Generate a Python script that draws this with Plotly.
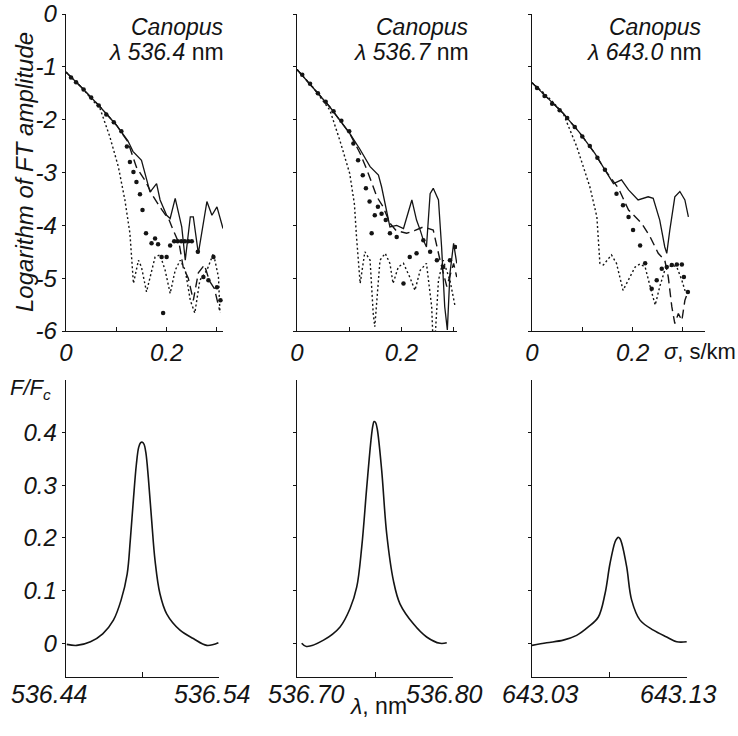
import plotly.graph_objects as go

W, H = 738, 736
FONT = "Liberation Sans, Arial, sans-serif"
INK = "#141414"

# ---------------- top row: log FT amplitude vs sigma (s/km) ----------------
p1_solid_x = [0, 0.03, 0.068, 0.1, 0.123, 0.133, 0.150, 0.160, 0.167, 0.180, 0.187, 0.200, 0.207, 0.217, 0.230, 0.237, 0.247, 0.253, 0.263, 0.280, 0.290, 0.300, 0.312]
p1_solid_y = [-1.1, -1.38, -1.76, -2.1, -2.4, -2.6, -2.77, -3.14, -3.37, -3.21, -3.52, -3.81, -3.87, -3.49, -4.03, -4.66, -3.84, -3.84, -4.53, -3.55, -3.81, -3.65, -4.06]
p1_dash_x = [0, 0.03, 0.068, 0.1, 0.123, 0.14, 0.157, 0.173, 0.19, 0.205, 0.213, 0.225, 0.233, 0.243, 0.253, 0.263, 0.275, 0.285, 0.295, 0.305]
p1_dash_y = [-1.1, -1.38, -1.76, -2.1, -2.42, -2.9, -3.15, -3.45, -3.7, -3.9, -4.09, -4.35, -4.8, -5.0, -5.42, -4.9, -4.75, -5.05, -5.2, -5.6]
p1_dots_x = [0.01, 0.02, 0.035, 0.05, 0.065, 0.08, 0.095, 0.11, 0.121, 0.127, 0.134, 0.140, 0.147, 0.152, 0.159, 0.170, 0.177, 0.183, 0.190, 0.193, 0.200, 0.207, 0.215, 0.222, 0.229, 0.236, 0.243, 0.250, 0.262, 0.273, 0.283, 0.293, 0.300, 0.307]
p1_dots_y = [-1.2, -1.29, -1.43, -1.58, -1.73, -1.9, -2.05, -2.22, -2.51, -2.80, -2.99, -3.18, -3.41, -3.71, -4.15, -4.34, -4.25, -4.36, -4.60, -5.66, -4.60, -4.38, -4.3, -4.3, -4.3, -4.3, -4.3, -4.3, -4.5, -4.98, -5.04, -4.6, -5.17, -5.42]
p1_fine_x = [0, 0.03, 0.068, 0.087, 0.104, 0.117, 0.127, 0.131, 0.134, 0.144, 0.150, 0.160, 0.167, 0.177, 0.187, 0.197, 0.207, 0.217, 0.227, 0.237, 0.247, 0.256, 0.266, 0.280, 0.293, 0.303, 0.306]
p1_fine_y = [-1.1, -1.38, -1.8, -2.32, -2.89, -3.52, -4.15, -4.72, -5.10, -4.66, -4.79, -5.26, -4.98, -4.60, -4.56, -4.85, -5.29, -4.85, -4.66, -4.85, -5.42, -5.66, -5.04, -4.85, -4.53, -4.98, -5.66]

p2_solid_x = [0, 0.03, 0.063, 0.101, 0.120, 0.140, 0.156, 0.162, 0.169, 0.178, 0.191, 0.204, 0.220, 0.229, 0.236, 0.242, 0.248, 0.255, 0.261, 0.271, 0.277, 0.283, 0.288, 0.293, 0.300, 0.306]
p2_solid_y = [-1.05, -1.38, -1.76, -2.26, -2.55, -2.89, -3.05, -3.27, -3.59, -4.03, -4.0, -4.06, -3.52, -3.90, -4.09, -4.28, -4.41, -3.40, -3.30, -3.52, -4.41, -5.54, -5.98, -4.91, -4.34, -4.72]
p2_dash_x = [0, 0.03, 0.063, 0.101, 0.121, 0.134, 0.153, 0.165, 0.178, 0.19, 0.21, 0.225, 0.242, 0.261, 0.274, 0.287, 0.300, 0.306]
p2_dash_y = [-1.05, -1.38, -1.76, -2.26, -2.64, -2.95, -3.46, -3.65, -3.96, -4.1, -4.15, -4.1, -4.03, -4.09, -4.66, -5.16, -4.72, -4.98]
p2_dots_x = [0.01, 0.025, 0.04, 0.055, 0.07, 0.085, 0.1, 0.108, 0.117, 0.126, 0.132, 0.139, 0.143, 0.149, 0.155, 0.162, 0.170, 0.178, 0.191, 0.204, 0.216, 0.229, 0.242, 0.255, 0.268, 0.280, 0.293, 0.303]
p2_dots_y = [-1.15, -1.32, -1.5, -1.66, -1.84, -2.02, -2.22, -2.45, -2.77, -3.05, -3.30, -3.55, -4.15, -3.81, -3.65, -3.78, -3.9, -4.15, -4.22, -5.10, -4.60, -4.53, -4.28, -4.5, -4.66, -4.79, -4.66, -4.41]
p2_fine_x = [0, 0.03, 0.063, 0.082, 0.101, 0.110, 0.114, 0.121, 0.130, 0.140, 0.146, 0.149, 0.159, 0.169, 0.178, 0.184, 0.194, 0.204, 0.216, 0.226, 0.236, 0.248, 0.258, 0.262, 0.271, 0.280, 0.293, 0.303]
p2_fine_y = [-1.05, -1.38, -1.82, -2.39, -3.02, -3.6, -4.22, -5.10, -4.50, -4.66, -5.67, -5.92, -4.66, -4.53, -4.72, -5.10, -4.79, -4.72, -4.98, -5.23, -4.85, -4.72, -5.54, -6.55, -5.04, -4.66, -5.04, -5.54]

p3_solid_x = [0, 0.03, 0.062, 0.095, 0.125, 0.145, 0.162, 0.178, 0.192, 0.211, 0.231, 0.241, 0.254, 0.264, 0.268, 0.274, 0.284, 0.294, 0.304, 0.311]
p3_solid_y = [-1.3, -1.58, -1.88, -2.25, -2.64, -2.95, -3.21, -3.14, -3.33, -3.52, -3.46, -3.49, -3.90, -4.41, -4.53, -4.09, -3.46, -3.36, -3.52, -3.84]
p3_dash_x = [0, 0.03, 0.062, 0.095, 0.125, 0.145, 0.160, 0.172, 0.192, 0.218, 0.235, 0.251, 0.264, 0.271, 0.278, 0.284, 0.291, 0.298, 0.304, 0.311]
p3_dash_y = [-1.3, -1.58, -1.88, -2.25, -2.64, -2.95, -3.15, -3.30, -3.71, -3.96, -4.22, -4.53, -4.66, -4.98, -5.54, -5.86, -5.67, -5.8, -5.42, -5.23]
p3_dots_x = [0.01, 0.025, 0.04, 0.055, 0.07, 0.085, 0.1, 0.115, 0.13, 0.145, 0.168, 0.181, 0.192, 0.201, 0.215, 0.225, 0.238, 0.248, 0.258, 0.268, 0.278, 0.288, 0.298, 0.302, 0.310]
p3_dots_y = [-1.4, -1.55, -1.7, -1.82, -1.97, -2.14, -2.32, -2.5, -2.72, -2.95, -3.40, -3.62, -3.84, -4.09, -4.38, -4.72, -5.20, -5.04, -4.82, -4.79, -4.75, -4.74, -4.74, -4.98, -5.26]
p3_fine_x = [0, 0.03, 0.062, 0.089, 0.115, 0.129, 0.135, 0.142, 0.158, 0.168, 0.181, 0.192, 0.205, 0.215, 0.225, 0.235, 0.245, 0.254, 0.264, 0.278, 0.288, 0.298, 0.304, 0.311]
p3_fine_y = [-1.3, -1.55, -1.88, -2.51, -3.27, -3.84, -4.72, -4.75, -4.56, -4.72, -5.23, -5.04, -4.79, -4.73, -4.79, -5.16, -5.51, -5.16, -4.85, -4.75, -4.79, -5.04, -5.23, -5.26]

# ---------------- bottom row: line profiles F/Fc vs wavelength ----------------
b1_x = [536.4405, 536.447, 536.456, 536.464, 536.471, 536.476, 536.480, 536.482, 536.484, 536.486, 536.4875, 536.4888, 536.4899, 536.4910, 536.4922, 536.4938, 536.496, 536.4982, 536.5014, 536.5058, 536.5145, 536.5232, 536.532, 536.5396]
b1_y = [-0.002, -0.004, 0.003, 0.018, 0.044, 0.082, 0.132, 0.195, 0.271, 0.340, 0.372, 0.381, 0.382, 0.378, 0.362, 0.315, 0.233, 0.157, 0.094, 0.056, 0.025, 0.009, -0.004, 0.001]
b2_x = [536.703, 536.706, 536.717, 536.7276, 536.734, 536.7383, 536.7415, 536.7447, 536.7474, 536.7486, 536.7494, 536.7504, 536.7515, 536.7543, 536.7575, 536.7618, 536.766, 536.7746, 536.7831, 536.7917, 536.796]
b2_y = [0.0, -0.006, 0.006, 0.031, 0.066, 0.107, 0.183, 0.296, 0.385, 0.413, 0.421, 0.419, 0.406, 0.328, 0.208, 0.119, 0.075, 0.037, 0.012, 0.0, 0.001]
b3_x = [643.030, 643.0395, 643.0502, 643.0588, 643.0663, 643.0728, 643.0771, 643.0803, 643.0835, 643.0848, 643.0857, 643.0867, 643.0879, 643.0911, 643.0943, 643.0997, 643.1083, 643.1169, 643.1234, 643.1298]
b3_y = [-0.004, 0.001, 0.006, 0.015, 0.031, 0.050, 0.094, 0.151, 0.192, 0.199, 0.2015, 0.199, 0.190, 0.145, 0.082, 0.044, 0.025, 0.012, 0.003, 0.003]

top_titles = ["536.4", "536.7", "643.0"]
top_yticks = [-6, -5, -4, -3, -2, -1, 0]
top_xticks = [0, 0.2]
top_xminor = [0.1, 0.3]
bot_yticks = [0, 0.1, 0.2, 0.3, 0.4]
bot_xticks = [[536.44, 536.54], [536.70, 536.80], [643.03, 643.13]]
bot_xlabels = [["536.44", "536.54"], ["536.70", "536.80"], ["643.03", "643.13"]]
bot_xminor = [[536.49], [536.75], [643.08]]
bot_label_shift = [[-17, -7], [9, -9], [8, -9]]


def fx(px):
    return px / W


def fy(py):
    return 1 - py / H


top_dom_x = [(66, 223), (297, 457), (532, 705)]
top_xmax = [0.312, 0.3065, 0.344]
bot_dom_x = [(66, 219), (297, 453), (532, 687)]
bot_xrange = [(536.44, 536.54), (536.70, 536.80), (643.03, 643.13)]
top_dom_y = (fy(331), fy(14))
bot_dom_y = (fy(677), fy(380))

fig = go.Figure()

top_sets = [
    (p1_solid_x, p1_solid_y, p1_dash_x, p1_dash_y, p1_dots_x, p1_dots_y, p1_fine_x, p1_fine_y),
    (p2_solid_x, p2_solid_y, p2_dash_x, p2_dash_y, p2_dots_x, p2_dots_y, p2_fine_x, p2_fine_y),
    (p3_solid_x, p3_solid_y, p3_dash_x, p3_dash_y, p3_dots_x, p3_dots_y, p3_fine_x, p3_fine_y),
]

for i, s in enumerate(top_sets):
    xa = "x" + ("" if i == 0 else str(i + 1))
    ya = "y" + ("" if i == 0 else str(i + 1))
    sx, sy, dx, dy, ox, oy, qx, qy = s
    fig.add_trace(go.Scatter(x=qx, y=qy, mode="lines", xaxis=xa, yaxis=ya,
                             line=dict(color=INK, width=1.4, dash="2px,2.5px")))
    fig.add_trace(go.Scatter(x=dx, y=dy, mode="lines", xaxis=xa, yaxis=ya,
                             line=dict(color=INK, width=1.4, dash="9px,5px")))
    fig.add_trace(go.Scatter(x=sx, y=sy, mode="lines", xaxis=xa, yaxis=ya,
                             line=dict(color=INK, width=1.3)))
    fig.add_trace(go.Scatter(x=ox, y=oy, mode="markers", xaxis=xa, yaxis=ya,
                             marker=dict(color=INK, size=4.5, symbol="circle")))

for i, (bx, by) in enumerate([(b1_x, b1_y), (b2_x, b2_y), (b3_x, b3_y)]):
    n = i + 4
    fig.add_trace(go.Scatter(x=bx, y=by, mode="lines", xaxis="x" + str(n), yaxis="y" + str(n),
                             line=dict(color=INK, width=1.6, shape="spline", smoothing=1.0)))

axis_common = dict(showline=True, linecolor=INK, linewidth=1.3, showgrid=False,
                   zeroline=False, tickcolor=INK, fixedrange=True, automargin=False,
                   ticklabeloverflow="allow")
tickfont = dict(family=FONT, size=24, color=INK, style="italic")

layout = dict(width=W, height=H, margin=dict(l=0, r=0, t=0, b=0, autoexpand=False),
              paper_bgcolor="white", plot_bgcolor="white", showlegend=False)

for i in range(3):
    k = "" if i == 0 else str(i + 1)
    layout["xaxis" + k] = dict(axis_common, domain=[fx(top_dom_x[i][0]), fx(top_dom_x[i][1])],
                               range=[0, top_xmax[i]], anchor="y" + k,
                               tickmode="array", tickvals=top_xticks,
                               ticktext=["0", "0.2"],
                               ticks="inside", ticklen=4, tickfont=tickfont,
                               minor=dict(tickvals=top_xminor, ticks="inside", ticklen=4,
                                          tickcolor=INK))
    layout["yaxis" + k] = dict(axis_common, domain=list(top_dom_y), range=[-6, 0],
                               anchor="x" + k, tickmode="array", tickvals=top_yticks,
                               ticktext=[str(v) for v in top_yticks],
                               showticklabels=(i == 0), ticks="outside", ticklen=3,
                               tickfont=tickfont)
for i in range(3):
    k = str(i + 4)
    layout["xaxis" + k] = dict(axis_common, domain=[fx(bot_dom_x[i][0]), fx(bot_dom_x[i][1])],
                               range=list(bot_xrange[i]), anchor="y" + k,
                               tickmode="array", tickvals=bot_xticks[i],
                               showticklabels=False, ticks="inside", ticklen=4,
                               minor=dict(tickvals=bot_xminor[i], ticks="inside", ticklen=5,
                                          tickcolor=INK))
    layout["yaxis" + k] = dict(axis_common, domain=list(bot_dom_y), range=[-0.064, 0.5],
                               anchor="x" + k, tickmode="array", tickvals=bot_yticks,
                               ticktext=["0", "0.1", "0.2", "0.3", "0.4"],
                               showticklabels=(i == 0), ticks="outside", ticklen=3,
                               tickfont=tickfont)

fig.update_layout(**layout)

ann = []
title_right = [226, 471, 704]
for i in range(3):
    ann.append(dict(x=fx(title_right[i]), y=fy(27), xref="paper", yref="paper",
                    xanchor="right", yanchor="middle", showarrow=False,
                    text="<i>Canopus</i>", font=dict(family=FONT, size=23, color=INK)))
    ann.append(dict(x=fx(title_right[i]), y=fy(52), xref="paper", yref="paper",
                    xanchor="right", yanchor="middle", showarrow=False,
                    text="<i>λ " + top_titles[i] + "</i> nm",
                    font=dict(family=FONT, size=23, color=INK)))

# bottom x tick labels (placed at the tick values of each axis)
for i in range(3):
    xr = "x" + str(i + 4)
    for v, t, sh in zip(bot_xticks[i], bot_xlabels[i], bot_label_shift[i]):
        ann.append(dict(x=v, y=fy(694), xref=xr, yref="paper", xshift=sh,
                        xanchor="center", yanchor="middle", showarrow=False,
                        text="<i>" + t + "</i>", font=dict(family=FONT, size=25, color=INK)))

ann.append(dict(x=fx(24), y=fy(172), xref="paper", yref="paper", textangle=-90,
                xanchor="center", yanchor="middle", showarrow=False,
                text="<i>Logarithm of FT amplitude</i>",
                font=dict(family=FONT, size=24, color=INK)))
ann.append(dict(x=fx(30), y=fy(389), xref="paper", yref="paper",
                xanchor="center", yanchor="middle", showarrow=False,
                text="<i>F/F<sub>c</sub></i>", font=dict(family=FONT, size=22, color=INK)))
ann.append(dict(x=fx(378), y=fy(706), xref="paper", yref="paper",
                xanchor="center", yanchor="middle", showarrow=False,
                text="<i>λ</i>, nm", font=dict(family=FONT, size=23, color=INK)))
ann.append(dict(x=fx(662), y=fy(351), xref="paper", yref="paper",
                xanchor="left", yanchor="middle", showarrow=False,
                text="<i>σ</i>, s/km", font=dict(family=FONT, size=22, color=INK)))
fig.update_layout(annotations=ann)

# remove the default page margin so the figure fills the 738x736 window exactly
fig.write_html("out.html", config={"displayModeBar": False, "staticPlot": True},
               post_script="document.body.style.margin='0';")
